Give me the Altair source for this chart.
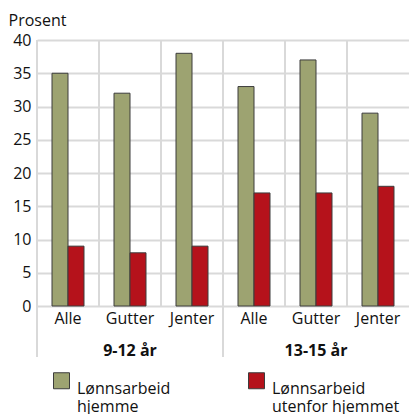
import altair as alt
import pandas as pd

groups = ["9-12 år", "9-12 år", "9-12 år", "13-15 år", "13-15 år", "13-15 år"]
subcats = ["Alle", "Gutter", "Jenter", "Alle", "Gutter", "Jenter"]
hjemme = [35, 32, 38, 33, 37, 29]
utenfor = [9, 8, 9, 17, 17, 18]
series = ["Lønnsarbeid hjemme", "Lønnsarbeid utenfor hjemmet"]
colors = ["#9da371", "#b5121b"]
y_ticks = [0, 5, 10, 15, 20, 25, 30, 35, 40]
group_names = ["9-12 år", "13-15 år"]

FONT = "Open Sans"
GRID = "#d9d9d9"
TXT = "#111111"

keys = [f"{g}|{s}" for g, s in zip(groups, subcats)]
rows = []
for k, a, b in zip(keys, hjemme, utenfor):
    rows.append({"key": k, "serie": series[0], "verdi": a})
    rows.append({"key": k, "serie": series[1], "verdi": b})
df = pd.DataFrame(rows)

first_keys = [keys[groups.index(g)] for g in group_names]
mid_keys = [keys[groups.index(g) + 1] for g in group_names]
grp_df = pd.DataFrame({"key": mid_keys, "gruppe": group_names})
sep_df = pd.DataFrame({"key": first_keys})
cat_df = pd.DataFrame({"key": keys})

xscale = alt.Scale(domain=keys, paddingInner=0, paddingOuter=0)
xaxis = alt.Axis(labelExpr="split(datum.value, '|')[1]", labelAngle=0,
                 domain=False, ticks=False, grid=False, title=None,
                 labelFont=FONT, labelFontSize=16, labelColor=TXT,
                 labelPadding=4)

grid_v = alt.Chart(cat_df).mark_rule(color=GRID, strokeWidth=2).encode(
    x=alt.X("key:N", bandPosition=0, scale=xscale, axis=xaxis),
    y=alt.value(0), y2=alt.value(266),
)
sep = alt.Chart(sep_df).mark_rule(color=GRID, strokeWidth=2).encode(
    x=alt.X("key:N", bandPosition=0, scale=xscale, axis=xaxis),
    y=alt.value(0), y2=alt.value(317),
)

bars = alt.Chart(df).mark_bar(stroke="#3c3c3c", strokeWidth=1).encode(
    x=alt.X("key:N", scale=xscale, axis=xaxis),
    xOffset=alt.XOffset("serie:N", sort=series,
                        scale=alt.Scale(domain=series, paddingInner=0, paddingOuter=0.9375)),
    y=alt.Y("verdi:Q", scale=alt.Scale(domain=[0, 40], nice=False),
            axis=alt.Axis(values=y_ticks, title="Prosent", titleAngle=0,
                          titleX=-29, titleY=-15, titleAlign="left",
                          titleBaseline="alphabetic", titleFont=FONT,
                          titleFontSize=16, titleFontWeight="normal", titleColor=TXT,
                          domain=False, ticks=False, grid=True,
                          gridColor=GRID, gridWidth=2,
                          labelFont=FONT, labelFontSize=16, labelColor=TXT,
                          labelPadding=6)),
    color=alt.Color("serie:N", scale=alt.Scale(domain=series, range=colors),
                    legend=alt.Legend(title=None, orient="none", legendX=16, legendY=332,
                                      direction="horizontal", columns=2,
                                      columnPadding=75, symbolType="square",
                                      symbolSize=256, symbolStrokeColor="#3c3c3c",
                                      symbolStrokeWidth=1, symbolOpacity=1,
                                      labelFont=FONT, labelFontSize=16,
                                      labelColor=TXT, labelOffset=7, labelLimit=300,
                                      labelBaseline="top", padding=0,
                                      labelExpr="[substring(datum.label, 0, indexof(datum.label, ' ')), substring(datum.label, indexof(datum.label, ' ') + 1)]")),
)

grp_text = alt.Chart(grp_df).mark_text(font=FONT, fontSize=16, fontWeight="bold",
                                       color=TXT, baseline="middle").encode(
    x=alt.X("key:N", scale=xscale, axis=xaxis),
    y=alt.value(311),
    text="gruppe:N",
)

chart = alt.layer(grid_v, sep, bars, grp_text).properties(
    width=372, height=266,
    padding={"left": 29, "top": 32, "right": 0, "bottom": 108},
    autosize=alt.AutoSizeParams(type="none"),
).configure_view(stroke=None)

chart.save("out.html", embed_options={"renderer": "svg", "actions": False})
